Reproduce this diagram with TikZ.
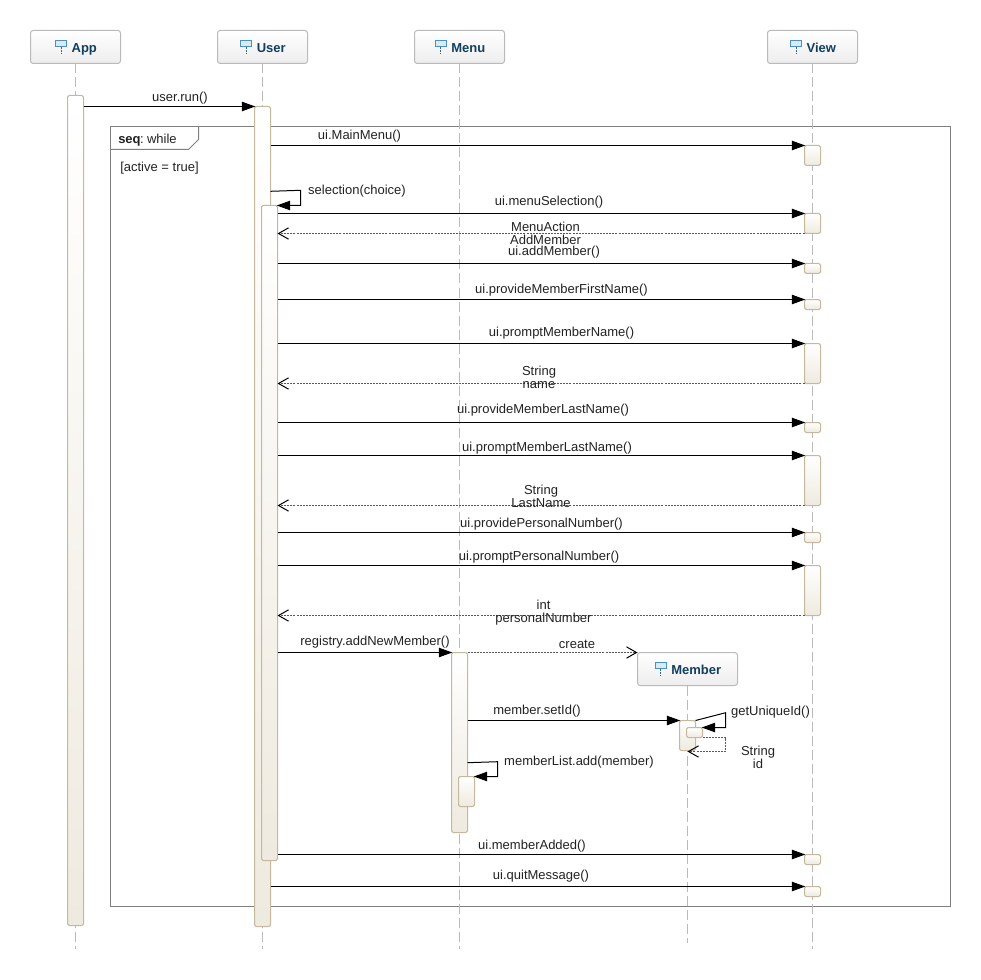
\documentclass[tikz,border=0pt]{standalone}
\usepackage{fontspec}
\setmainfont{Liberation Sans}
\usetikzlibrary{arrows.meta}
\definecolor{headtext}{HTML}{123F60}
\definecolor{iconblue}{HTML}{4A90C4}
\definecolor{barline}{HTML}{C4B99F}
\definecolor{barfill}{HTML}{EFEADF}
\definecolor{msgtext}{HTML}{222222}
\newcommand{\lifeicon}{\tikz[baseline=0pt,x=1pt,y=1pt,sharp corners]{%
	\draw[iconblue,fill=iconblue!20,line width=0.75pt] (0,4.2) rectangle (8.2,8.6);
	\draw[iconblue!70!black,line width=0.75pt,dash pattern=on 1.5pt off 1pt] (4.1,4.2) -- (4.1,-1);}\hspace{3.4pt}}
\tikzset{
	lifehead/.style={draw=black!27,rounded corners=2pt,top color=white,bottom color=black!7,line width=0.75pt,inner sep=0pt,outer sep=0pt,minimum width=#1*0.75pt,minimum height=24.75pt,text=headtext,text height=8.9pt,text depth=1.1pt,font=\fontsize{9.75}{9.75}\selectfont\bfseries},
	lifeline/.style={draw=black!27,line width=0.75pt,dash pattern=on 7.5pt off 3pt},
	bar/.style={draw=barline,rounded corners=1.2pt,top color=white,bottom color=barfill,line width=0.75pt,inner sep=0pt,outer sep=0pt,minimum width=12pt,minimum height=#1*0.75pt,anchor=north},
	call/.style={black,line width=0.75pt,-{Triangle[length=10pt,width=7pt]},shorten >=-0.6pt},
	answer/.style={black!65,line width=0.75pt,dash pattern=on 1.5pt off 0.8pt,-{Straight Barb[length=7.5pt,width=8.5pt,black]}},
	msg/.style={text=msgtext,inner sep=0pt,anchor=base,align=center,font=\fontsize{9.75}{9.75}\selectfont},
	frameline/.style={draw=black!50,line width=0.75pt}
}
\begin{document}
\begin{tikzpicture}[x=0.75pt,y=-0.75pt]
	\path[fill=white,use as bounding box] (0,0) rectangle (980,980);

	\draw[frameline] (110.5,126.5) rectangle (950.5,906.5);
	\draw[frameline] (110.5,149.5) -- (188.5,149.5) -- (198.5,139.5) -- (198.5,126.5);
	\node[msg,anchor=base west] (whilelabel) at (118,144) {\textbf{seq}\kern-0.4pt:\kern-0.2pt\ while};
	\node[msg,anchor=base west] (guardlabel) at (120,171.3) {[active = true]};

	\node[lifehead=90] (app) at (75.5,47) {\hspace{0.8pt}\lifeicon App};
	\node[lifehead=90] (user) at (262.5,47) {\hspace{0.8pt}\lifeicon User};
	\node[lifehead=90] (menu) at (459.5,47) {\hspace{0.8pt}\lifeicon Menu};
	\node[lifehead=90] (view) at (812.5,47) {\hspace{0.8pt}\lifeicon View};
	\node[lifehead=100] (member) at (687.5,669) {\hspace{0.8pt}\lifeicon Member};

	\coordinate (append) at (75.5,949);
	\coordinate (userend) at (262.5,949);
	\coordinate (menuend) at (459.5,949);
	\coordinate (viewend) at (812.5,949);
	\coordinate (memberend) at (687.5,943);
	\draw[lifeline] (app.south) -- (append);
	\draw[lifeline] (user.south) -- (userend);
	\draw[lifeline] (menu.south) -- (menuend);
	\draw[lifeline] (view.south) -- (viewend);
	\draw[lifeline] (member.south) -- (memberend);

	\node[bar=830] (appbar) at (75.5,95.5) {};
	\node[bar=820] (userbar) at (262.5,106.5) {};
	\node[bar=655] (userinner) at (269.5,205.5) {};
	\node[bar=180] (menubar) at (459.5,652.5) {};
	\node[bar=30] (menuinner) at (466.5,776.5) {};
	\node[bar=30] (memberbar) at (687.5,720.5) {};
	\node[bar=10] (memberinner) at (694.5,727.5) {};

	\node[bar=20] (viewa) at (812.5,145.5) {};
	\node[bar=20] (viewb) at (812.5,213.5) {};
	\node[bar=10] (viewc) at (812.5,263.5) {};
	\node[bar=10] (viewd) at (812.5,299.5) {};
	\node[bar=40] (viewe) at (812.5,343.5) {};
	\node[bar=10] (viewf) at (812.5,422.5) {};
	\node[bar=50] (viewg) at (812.5,455.5) {};
	\node[bar=10] (viewh) at (812.5,532.5) {};
	\node[bar=50] (viewi) at (812.5,565.5) {};
	\node[bar=10] (viewj) at (812.5,854.5) {};
	\node[bar=10] (viewk) at (812.5,886.5) {};

	\draw[call] (appbar.east |- userbar.north) -- (userbar.north west);
	\draw[call] (userbar.east |- viewa.north) -- (viewa.north west);
	\draw[call] (userinner.east |- viewb.north) -- (viewb.north west);
	\draw[answer] (viewb.south west) -- (userinner.east |- viewb.south);
	\draw[call] (userinner.east |- viewc.north) -- (viewc.north west);
	\draw[call] (userinner.east |- viewd.north) -- (viewd.north west);
	\draw[call] (userinner.east |- viewe.north) -- (viewe.north west);
	\draw[answer] (viewe.south west) -- (userinner.east |- viewe.south);
	\draw[call] (userinner.east |- viewf.north) -- (viewf.north west);
	\draw[call] (userinner.east |- viewg.north) -- (viewg.north west);
	\draw[answer] (viewg.south west) -- (userinner.east |- viewg.south);
	\draw[call] (userinner.east |- viewh.north) -- (viewh.north west);
	\draw[call] (userinner.east |- viewi.north) -- (viewi.north west);
	\draw[answer] (viewi.south west) -- (userinner.east |- viewi.south);
	\draw[call] (userinner.east |- menubar.north) -- (menubar.north west);
	\draw[answer] (menubar.east |- member.north west) -- (member.north west);
	\draw[call] (menubar.east |- memberbar.north) -- (memberbar.north west);
	\draw[call] (userinner.east |- viewj.north) -- (viewj.north west);
	\draw[call] (userbar.east |- viewk.north) -- (viewk.north west);

	\coordinate (selfstart) at (270.5,191.3);
	\coordinate (selfbend) at (300.5,190.3);
	\draw[call] (selfstart) -- (selfbend) |- (userinner.north east);
	\coordinate (addstart) at (467.5,762.7);
	\coordinate (addbend) at (497.5,761.7);
	\draw[call] (addstart) -- (addbend) |- (menuinner.north east);
	\coordinate (idbend) at (725.7,712.7);
	\draw[call] (memberbar.north east) -- (idbend) |- (memberinner.north east);
	\coordinate (idback) at (725.7,751.5);
	\coordinate (idtip) at (687.5,751.5);
	\draw[answer] (memberinner.south east) -| (idback) -- (idtip);

	\node[msg] (runlabel) at (180,102) {user.run()};
	\node[msg] (mainlabel) at (359.5,139.2) {ui.MainMenu()};
	\node[msg] (selflabel) at (357,194.2) {selection(choice)};
	\node[msg] (selectlabel) at (549,205.2) {ui.menuSelection()};
	\node[msg] (actionlabel) at (545.5,245) {MenuAction\\AddMember};
	\node[msg] (addlabel) at (554,256) {ui.addMember()};
	\node[msg] (firstlabel) at (561.5,293) {ui.provideMemberFirstName()};
	\node[msg] (promptlabel) at (561.5,336) {ui.promptMemberName()};
	\node[msg] (namelabel) at (539,388) {String\\name};
	\node[msg] (lastlabel) at (543,413.7) {ui.provideMemberLastName()};
	\node[msg] (promptlastlabel) at (547,451.7) {ui.promptMemberLastName()};
	\node[msg] (lastnamelabel) at (541,507.7) {String\\LastName};
	\node[msg] (personlabel) at (541.5,527.7) {ui.providePersonalNumber()};
	\node[msg] (promptpersonlabel) at (539,560.7) {ui.promptPersonalNumber()};
	\node[msg] (numberlabel) at (543.5,622.7) {int\\personalNumber};
	\node[msg] (registrylabel) at (375,645.7) {registry.addNewMember()};
	\node[msg] (createlabel) at (577,648.7) {create};
	\node[msg] (setidlabel) at (537,714.7) {member.setId()};
	\node[msg] (uniquelabel) at (770.5,715.7) {getUniqueId()};
	\node[msg] (idlabel) at (758,768) {String\\id};
	\node[msg] (listlabel) at (579,765.7) {memberList.add(member)};
	\node[msg] (addedlabel) at (532,849.7) {ui.memberAdded()};
	\node[msg] (quitlabel) at (541,879.7) {ui.quitMessage()};
\end{tikzpicture}
\end{document}
